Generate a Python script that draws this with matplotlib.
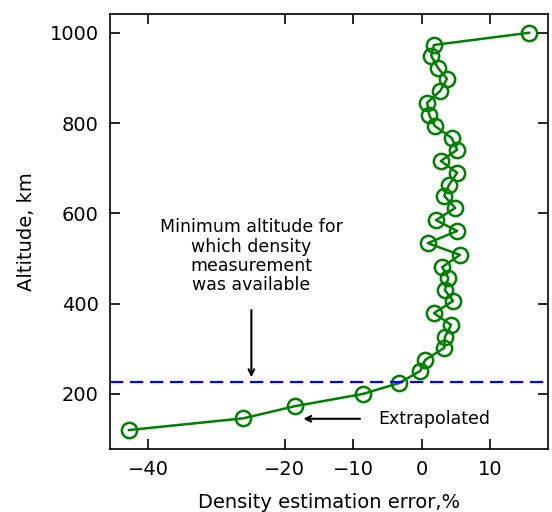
import numpy as np
from matplotlib import pyplot as plt

# density estimation error (%) vs altitude (km)
altitude = [1000, 973, 949, 922, 898, 871, 845, 818, 794, 767, 741, 716, 690, 663,
            639, 612, 585, 561, 534, 508, 481, 457, 430, 406, 379, 353, 326, 302,
            275, 251, 224, 200, 173, 146, 120]
error = [15.7, 1.8, 1.4, 2.4, 3.7, 2.7, 0.8, 1.1, 1.9, 4.4, 5.2, 2.8, 5.2, 4.0,
         3.3, 4.9, 2.1, 5.2, 0.9, 5.6, 3.0, 3.9, 3.4, 4.6, 1.8, 4.3, 3.4, 3.3,
         0.5, -0.2, -3.3, -8.6, -18.5, -26.1, -42.8]
min_alt = 226
x_ticks = [-40, -20, -10, 0, 10]
y_ticks = [200, 400, 600, 800, 1000]

fig = plt.figure(figsize=(5.52, 5.12), dpi=100)
ax = fig.add_axes([0.199, 0.123, 0.794, 0.850])

ax.plot(error, altitude, '-o', color='green', lw=1.8, ms=11,
        mfc='none', mew=1.8)
ax.axhline(min_alt, color='blue', ls='--', lw=1.6, dashes=(6, 3))

ax.annotate('', xy=(-24.9, min_alt + 5), xytext=(-24.9, 392),
            arrowprops=dict(arrowstyle='->', color='black', lw=1.5))
ax.text(-24.9, 505, 'Minimum altitude for\nwhich density\nmeasurement\nwas available',
        ha='center', va='center', fontsize=12.5, linespacing=1.1)

ax.annotate('', xy=(-17.7, 145), xytext=(-8.6, 145),
            arrowprops=dict(arrowstyle='->', color='black', lw=1.5))
ax.text(-6.3, 145, 'Extrapolated', ha='left', va='center', fontsize=12.5)

ax.set_xlim(-45.6, 18.5)
ax.set_ylim(78, 1042)
ax.set_xticks(x_ticks)
ax.set_yticks(y_ticks)
ax.tick_params(direction='in', top=True, right=True, length=7, width=1.2,
               labelsize=14, pad=8)
for s in ax.spines.values():
    s.set_linewidth(1.2)
ax.set_xlabel('Density estimation error,%', fontsize=14, labelpad=10)
ax.set_ylabel('Altitude, km', fontsize=14, labelpad=10)

plt.savefig('out.png', dpi=100)
